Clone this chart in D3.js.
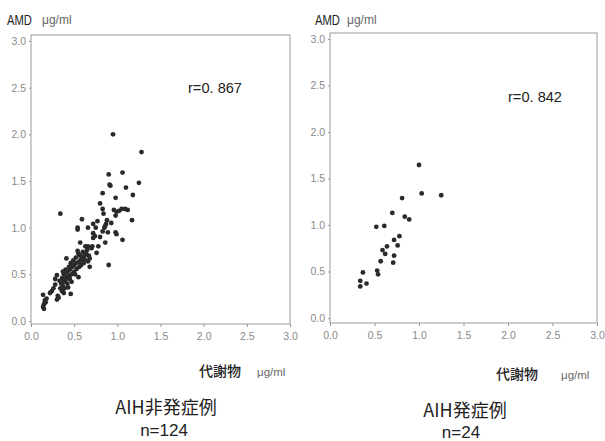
<!DOCTYPE html>
<html><head><meta charset="utf-8">
<script src="https://cdn.jsdelivr.net/npm/d3@7"></script>
<style>body{margin:0;background:#fff}svg{display:block}</style>
</head><body>
<svg id="c" width="605" height="441"></svg>
<script>
const tickValues = [0.0, 0.5, 1.0, 1.5, 2.0, 2.5, 3.0];
const tickLabels = ["0.0","0.5","1.0","1.5","2.0","2.5","3.0"];
const yTitle = "AMD", unit = "μg/ml", xTitle = "代謝物";
const groupNames = ["AIH非発症例", "AIH発症例"];
const groupN = ["n=124", "n=24"];
const rLabels = ["r=0. 867", "r=0. 842"];

const leftX = [0.95,1.28,0.90,1.06,0.34,0.91,0.92,1.25,1.10,0.83,1.18,0.98,0.80,0.83,0.84,0.96,0.99,1.02,1.05,1.09,
1.12,0.98,1.17,0.59,0.77,0.72,0.88,0.87,0.85,0.86,0.54,0.66,0.75,0.54,0.72,0.74,0.72,0.83,0.89,0.98,
0.99,1.06,0.57,0.63,0.66,0.71,0.78,0.86,0.76,0.54,0.63,0.57,0.59,0.61,0.66,0.68,0.41,0.68,0.90,0.55,
0.30,0.28,0.46,0.24,0.14,0.45,0.48,0.50,0.52,0.55,0.57,0.60,0.62,0.64,0.58,0.53,0.50,0.47,0.44,0.42,
0.40,0.38,0.36,0.38,0.40,0.42,0.35,0.33,0.37,0.39,0.36,0.38,0.32,0.30,0.31,0.16,0.17,0.15,0.14,0.15,
0.18,0.22,0.26,0.28,0.44,0.46,0.49,0.52,0.55,0.60,0.65,0.70,0.45,0.41,0.43,0.34,0.37,0.56,0.62,0.67,
0.80,0.93,0.47,0.51];
const leftY = [2.00,1.81,1.57,1.59,1.15,1.46,1.45,1.48,1.43,1.37,1.35,1.32,1.26,1.20,1.15,1.19,1.17,1.18,1.20,1.20,
1.19,1.13,1.08,1.09,1.07,1.04,1.08,1.04,1.00,1.02,1.00,1.00,1.00,0.98,0.94,0.91,0.89,0.96,0.95,0.95,
0.93,0.87,0.84,0.80,0.80,0.80,0.80,0.84,0.73,0.75,0.73,0.70,0.66,0.62,0.64,0.67,0.67,0.58,0.60,0.47,
0.49,0.39,0.29,0.32,0.28,0.55,0.58,0.60,0.62,0.63,0.65,0.68,0.70,0.72,0.60,0.56,0.53,0.50,0.48,0.52,
0.55,0.50,0.46,0.42,0.44,0.40,0.40,0.43,0.37,0.35,0.32,0.30,0.25,0.23,0.27,0.22,0.20,0.18,0.15,0.13,
0.24,0.30,0.35,0.45,0.58,0.62,0.65,0.68,0.72,0.74,0.76,0.78,0.45,0.47,0.36,0.35,0.53,0.58,0.66,0.70,
0.90,1.05,0.42,0.50];
const rightX = [1.00,1.03,1.25,0.81,0.70,0.84,0.89,0.52,0.61,0.78,0.72,0.76,0.64,0.59,0.62,0.72,0.71,0.57,0.37,0.53,0.54,0.34,0.41,0.34];
const rightY = [1.645,1.34,1.32,1.29,1.13,1.09,1.06,0.98,0.99,0.88,0.84,0.78,0.77,0.73,0.69,0.67,0.595,0.61,0.49,0.51,0.47,0.40,0.37,0.34];

const svg = d3.select("#c");
svg.append("rect").attr("width",605).attr("height",441).attr("fill","#fff");

const panels = [
  {xs:leftX, ys:leftY, x0:31, x1:290, yb:321, yt:41, fTop:35, fBot:324,
   ttlX:7, unitX:42, rX:188, rY:93, xtX:199, xuX:257, xtY:376, gX:166, gY:414, nX:164, nY:436},
  {xs:rightX, ys:rightY, x0:330, x1:597, yb:318, yt:39, fTop:33, fBot:323,
   ttlX:315, unitX:347, rX:508, rY:102, xtX:496, xuX:561, xtY:379, gX:465, gY:417, nX:461, nY:438}
];

panels.forEach((p,i)=>{
  const x = d3.scaleLinear().domain([0,3]).range([p.x0,p.x1]);
  const y = d3.scaleLinear().domain([0,3]).range([p.yb,p.yt]);
  const g = svg.append("g");
  g.append("rect").attr("x",p.x0).attr("y",p.fTop).attr("width",p.x1-p.x0).attr("height",p.fBot-p.fTop)
    .attr("fill","none").attr("stroke","#9a9a9a").attr("stroke-width",1);
  const ax = d3.axisBottom(x).tickValues(tickValues).tickFormat((d,k)=>tickLabels[k]).tickSize(3).tickPadding(6);
  const gx = g.append("g").attr("transform",`translate(0,${p.fBot})`).call(ax);
  const ay = d3.axisLeft(y).tickValues(tickValues).tickFormat((d,k)=>tickLabels[k]).tickSize(2).tickPadding(3);
  const gy = g.append("g").attr("transform",`translate(${p.x0},0)`).call(ay);
  [gx,gy].forEach(a=>{
    a.select(".domain").remove();
    a.selectAll("line").attr("stroke","#999");
    a.selectAll("text").attr("fill","#8a8a8a").style("font-family","'Liberation Sans',sans-serif").style("font-size","10.5px");
  });
  g.selectAll("circle").data(p.xs.map((v,k)=>[v,p.ys[k]])).join("circle")
    .attr("cx",d=>x(d[0])).attr("cy",d=>y(d[1])).attr("r",2.4).attr("fill","#2a2a2a");
  g.append("text").attr("x",p.ttlX).attr("y",25).text(yTitle)
    .attr("textLength",25).attr("lengthAdjust","spacingAndGlyphs")
    .style("font-family","'Liberation Sans',sans-serif").style("font-size","14px").attr("fill","#222");
  g.append("text").attr("x",p.unitX).attr("y",24).text(unit)
    .style("font-family","'Liberation Sans',sans-serif").style("font-size","12px").attr("fill","#666");
  g.append("text").attr("x",p.rX).attr("y",p.rY).text(rLabels[i])
    .attr("textLength",54).attr("lengthAdjust","spacingAndGlyphs")
    .style("font-family","'Liberation Sans',sans-serif").style("font-size","15px").attr("fill","#222");
  g.append("text").attr("x",p.xtX).attr("y",p.xtY).text(xTitle)
    .style("font-family","'Noto Sans CJK JP',sans-serif").style("font-size","14px").style("font-weight","500").attr("fill","#222");
  g.append("text").attr("x",p.xuX).attr("y",p.xtY).text(unit)
    .style("font-family","'Liberation Sans',sans-serif").style("font-size","11.5px").attr("fill","#666");
  g.append("text").attr("x",p.gX).attr("y",p.gY).attr("text-anchor","middle").text(groupNames[i])
    .style("font-family","'Noto Sans CJK JP',sans-serif").style("font-size","18px").attr("fill","#222");
  g.append("text").attr("x",p.nX).attr("y",p.nY).attr("text-anchor","middle").text(groupN[i])
    .style("font-family","'Liberation Sans',sans-serif").style("font-size","17px").attr("fill","#222");
});
</script>
</body></html>
